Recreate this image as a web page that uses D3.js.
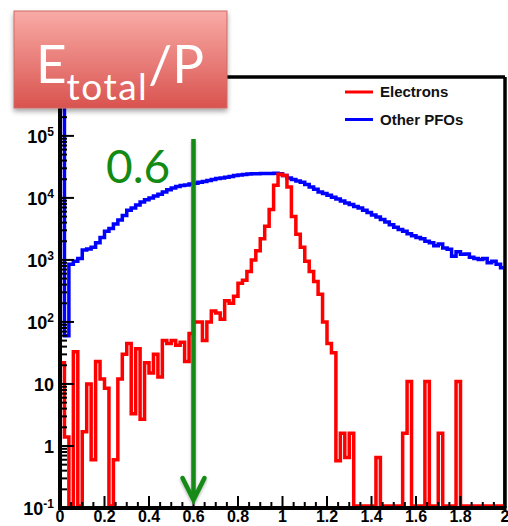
<!DOCTYPE html>
<html>
<head>
<meta charset="utf-8">
<script src="https://cdn.jsdelivr.net/npm/d3@7"></script>
<style>
  html, body { margin: 0; padding: 0; background: #fff; }
  svg { display: block; }
</style>
</head>
<body>
<div id="chart"></div>
<script>
var width = 508;
var height = 526;

// histogram binning (100 bins over E/P 0..2)
const xMin = 0;
const xMax = 2;
const nBins = 100;

const xTickValues = [0, 0.2, 0.4, 0.6, 0.8, 1, 1.2, 1.4, 1.6, 1.8, 2];
const xTickLabels = ["0", "0.2", "0.4", "0.6", "0.8", "1", "1.2", "1.4", "1.6", "1.8", "2"];
const yDecades = [-1, 0, 1, 2, 3, 4, 5];
const yRange = [0.1, 8.9e5];

const legendLabels = ["Electrons", "Other PFOs"];
const legendColors = ["#ff0000", "#0000ff"];

const cutValue = 0.6;
const cutLabel = "0.6";

// bin contents
const otherPFOs = [
  2e6, 60, 850, 950, 1050, 1450, 1500, 1600, 1900, 2300,
  2900, 3200, 3800, 4400, 5200, 6300, 6900, 7700, 8600, 9300,
  10000, 10700, 11500, 12400, 13500, 14500, 15200, 15800, 16200, 16700,
  17300, 17800, 18400, 19000, 19800, 20500, 21000, 21600, 22200, 22900,
  23500, 23800, 24200, 24500, 24600, 24800, 24800, 24700, 24900, 24600,
  23000, 21000, 19800, 18700, 17800, 16500, 15000, 13800, 12500, 11800,
  11000, 10200, 9600, 8900, 8300, 7800, 7300, 6900, 6300, 5800,
  5300, 4900, 4500, 4100, 3700, 3350, 3100, 2900, 2650, 2450,
  2300, 2200, 2000, 1900, 1700, 1800, 1550, 1480, 1150, 1350,
  1230, 1250, 1100, 1050, 1020, 1050, 900, 950, 850, 750
];

const electrons = [
  22, 1.4, 0, 33, 0, 1.7, 10, 0.6, 23, 12,
  8.5, 0, 0.6, 12, 30, 45, 3.3, 37, 2.7, 22,
  15, 30, 13, 50, 45, 50, 42, 47, 23, 65,
  100, 100, 50, 100, 150, 140, 110, 220, 200, 260,
  420, 470, 650, 1000, 1400, 2200, 3500, 6500, 16000, 24000,
  23000, 15000, 5000, 2600, 1600, 950, 650, 450, 280, 100,
  45, 32, 0.58, 1.6, 0.65, 1.6, 0, 0, 0, 0,
  0, 0.65, 0, 0, 0, 0, 0, 1.6, 11, 0,
  0, 0, 11, 0, 0, 1.6, 0, 0, 0, 11,
  0, 0, 0, 0, 0, 0, 0, 0, 0, 0
];

const plot = { left: 60, right: 505, top: 77, bottom: 508 };

const svg = d3.select("#chart")
  .append("svg")
  .attr("width", width)
  .attr("height", height);

svg.append("rect").attr("width", width).attr("height", height).attr("fill", "#fff");

const defs = svg.append("defs");

const grad = defs.append("linearGradient")
  .attr("id", "titleGrad")
  .attr("x1", 0).attr("y1", 0).attr("x2", 0).attr("y2", 1);
grad.append("stop").attr("offset", "0%").attr("stop-color", "#f9aba6");
grad.append("stop").attr("offset", "100%").attr("stop-color", "#d9534f");

const shadow = defs.append("filter")
  .attr("id", "shadow")
  .attr("x", "-20%").attr("y", "-20%")
  .attr("width", "140%").attr("height", "140%");
shadow.append("feDropShadow")
  .attr("dx", 0).attr("dy", 3)
  .attr("stdDeviation", 2.5)
  .attr("flood-color", "#000")
  .attr("flood-opacity", 0.35);

const arrowShadow = defs.append("filter")
  .attr("id", "arrowShadow")
  .attr("x", "-50%").attr("y", "-10%")
  .attr("width", "200%").attr("height", "120%");
arrowShadow.append("feDropShadow")
  .attr("dx", 0).attr("dy", 2)
  .attr("stdDeviation", 1.5)
  .attr("flood-color", "#000")
  .attr("flood-opacity", 0.3);

defs.append("clipPath")
  .attr("id", "plotClip")
  .append("rect")
  .attr("x", plot.left)
  .attr("y", plot.top)
  .attr("width", plot.right - plot.left)
  .attr("height", plot.bottom - plot.top);

const x = d3.scaleLinear().domain([xMin, xMax]).range([plot.left, plot.right]);
const y = d3.scaleLog().domain(yRange).range([plot.bottom, plot.top]);

const binWidth = (xMax - xMin) / nBins;

// ROOT style step outline, empty bins sit on the bottom of the frame
function histPath(values) {
  const yOf = (v) => Math.min(y(Math.max(v, yRange[0])), plot.bottom - 2);
  let p = d3.path();
  p.moveTo(x(xMin), plot.bottom);
  values.forEach((v, i) => {
    const yy = yOf(v);
    p.lineTo(x(xMin + i * binWidth), yy);
    p.lineTo(x(xMin + (i + 1) * binWidth), yy);
  });
  p.lineTo(x(xMax), plot.bottom);
  return p.toString();
}

const histGroup = svg.append("g").attr("clip-path", "url(#plotClip)");

histGroup.append("path")
  .attr("d", histPath(otherPFOs))
  .attr("fill", "none")
  .attr("stroke", legendColors[1])
  .attr("stroke-width", 3.5);

histGroup.append("path")
  .attr("d", histPath(electrons))
  .attr("fill", "none")
  .attr("stroke", legendColors[0])
  .attr("stroke-width", 3.5);

// frame and axes
const axisGroup = svg.append("g");

axisGroup.append("line")
  .attr("x1", plot.left).attr("x2", plot.right)
  .attr("y1", plot.top).attr("y2", plot.top)
  .attr("stroke", "#000").attr("stroke-width", 3.5);

axisGroup.append("line")
  .attr("x1", plot.right).attr("x2", plot.right)
  .attr("y1", plot.top).attr("y2", plot.bottom)
  .attr("stroke", "#000").attr("stroke-width", 3.5);

// y ticks: decades and 2..9 in between
let yTicks = [];
yDecades.forEach((e) => {
  for (let m = 1; m <= 9; m++) {
    const v = m * Math.pow(10, e);
    if (v <= yRange[1]) yTicks.push({ v: v, major: m === 1 });
  }
});

axisGroup.selectAll("line.ytick")
  .data(yTicks)
  .enter()
  .append("line")
  .attr("class", "ytick")
  .attr("x1", plot.left)
  .attr("x2", (d) => plot.left + (d.major ? 14 : 7))
  .attr("y1", (d) => y(d.v))
  .attr("y2", (d) => y(d.v))
  .attr("stroke", "#000")
  .attr("stroke-width", 2);

// x ticks: majors every 0.2, minors every 0.05
const xMinor = d3.range(0, 41).map((i) => i * 0.05);

axisGroup.selectAll("line.xtick")
  .data(xMinor)
  .enter()
  .append("line")
  .attr("class", "xtick")
  .attr("x1", (d) => x(d))
  .attr("x2", (d) => x(d))
  .attr("y1", plot.bottom)
  .attr("y2", (d, i) => plot.bottom - (i % 4 === 0 ? 12 : 6))
  .attr("stroke", "#000")
  .attr("stroke-width", 2);

axisGroup.append("line")
  .attr("x1", plot.left).attr("x2", plot.left)
  .attr("y1", plot.top).attr("y2", plot.bottom + 1.5)
  .attr("stroke", "#000").attr("stroke-width", 4);

axisGroup.append("line")
  .attr("x1", plot.left - 2).attr("x2", plot.right + 1.5)
  .attr("y1", plot.bottom).attr("y2", plot.bottom)
  .attr("stroke", "#000").attr("stroke-width", 4);

const labelFont = "'Liberation Sans', Arial, Helvetica, sans-serif";

axisGroup.selectAll("text.xlabel")
  .data(xTickValues)
  .enter()
  .append("text")
  .attr("class", "xlabel")
  .attr("x", (d) => x(d))
  .attr("y", 522)
  .attr("text-anchor", "middle")
  .style("font-family", labelFont)
  .style("font-weight", "bold")
  .style("font-size", "16px")
  .text((d, i) => xTickLabels[i]);

const yLabels = axisGroup.selectAll("text.ylabel")
  .data(yDecades)
  .enter()
  .append("text")
  .attr("class", "ylabel")
  .attr("x", 54)
  .attr("y", (d) => y(Math.pow(10, d)) + 7)
  .attr("text-anchor", "end")
  .style("font-family", labelFont)
  .style("font-weight", "bold")
  .style("font-size", "18px");

yLabels.each(function (d) {
  const t = d3.select(this);
  if (d === 0) {
    t.text("1");
  } else if (d === 1) {
    t.text("10");
  } else {
    t.append("tspan").text("10");
    t.append("tspan")
      .attr("dy", -7)
      .style("font-size", "12px")
      .text(String(d));
  }
});

// legend
const legend = svg.append("g");
legendLabels.forEach((label, i) => {
  const ly = 92 + i * 27.5;
  legend.append("line")
    .attr("x1", 345).attr("x2", 373)
    .attr("y1", ly).attr("y2", ly)
    .attr("stroke", legendColors[i])
    .attr("stroke-width", 3);
  legend.append("text")
    .attr("x", 380)
    .attr("y", ly + 5)
    .style("font-family", labelFont)
    .style("font-weight", "bold")
    .style("font-size", "15px")
    .style("fill", "#111")
    .text(label);
});

// cut arrow at E/P = 0.6
const green = "#138a13";
const arrow = svg.append("g").attr("filter", "url(#arrowShadow)");
const ax = x(cutValue);
arrow.append("line")
  .attr("x1", ax).attr("x2", ax)
  .attr("y1", 139).attr("y2", 500)
  .attr("stroke", green)
  .attr("stroke-width", 4.5);
arrow.append("path")
  .attr("d", `M${ax - 11},${478} L${ax},${500} L${ax + 11},${478}`)
  .attr("fill", "none")
  .attr("stroke", green)
  .attr("stroke-width", 4.5)
  .attr("stroke-linecap", "round")
  .attr("stroke-linejoin", "miter");

svg.append("text")
  .attr("x", 106)
  .attr("y", 183)
  .style("font-family", "Lato, 'Open Sans', sans-serif")
  .style("font-size", "46px")
  .style("fill", green)
  .text(cutLabel);

// title box
const title = svg.append("g");
title.append("rect")
  .attr("x", 14).attr("y", 11)
  .attr("width", 213).attr("height", 97)
  .attr("fill", "url(#titleGrad)")
  .attr("stroke", "#cf6a65")
  .attr("stroke-width", 1)
  .attr("filter", "url(#shadow)");

const titleText = title.append("text")
  .attr("x", 36)
  .attr("y", 83)
  .style("font-family", "Lato, 'Open Sans', sans-serif")
  .style("font-size", "53px")
  .style("fill", "#fff");
titleText.append("tspan").text("E");
titleText.append("tspan")
  .attr("dy", 17)
  .style("font-size", "37px")
  .style("letter-spacing", "1.5px")
  .text("total");
titleText.append("tspan")
  .attr("dy", -17)
  .text("/P");
</script>
</body>
</html>
